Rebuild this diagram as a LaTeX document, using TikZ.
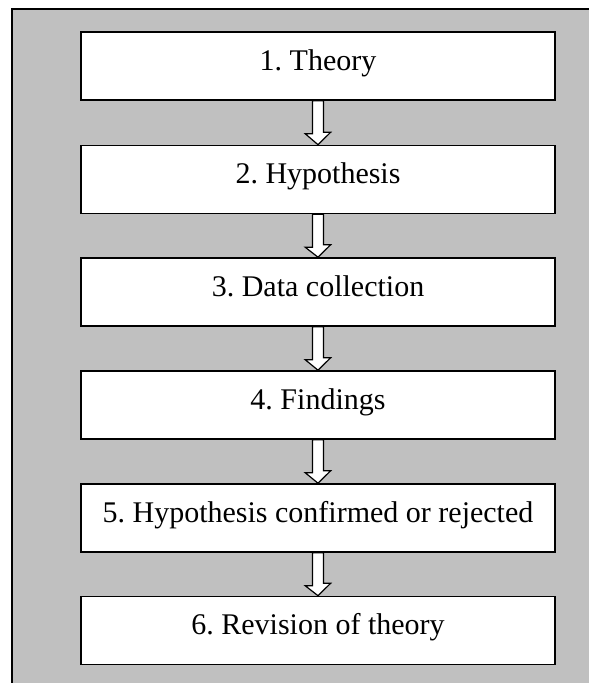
\documentclass[tikz,border=0pt]{standalone}
\usepackage{fontspec}
\setmainfont{Liberation Serif}
\frenchspacing
\usetikzlibrary{calc}
\definecolor{framegray}{HTML}{C0C0C0}
\tikzset{
  stepbox/.style={draw=black, line width=1.6pt, fill=white, minimum width=474pt, minimum height=68pt,
    inner sep=0pt, text height=20pt, text depth=12pt, font=\fontsize{30}{36}\selectfont\frenchspacing},
  hollowarrow/.style={draw=black, line width=1.2pt, fill=white, line join=miter}
}
\newcommand{\flowarrow}[2]{%
  \draw[hollowarrow] ($(#1.south)+(-5.5,0)$) -- ++(0,33) -- ++(-7.2,0) -- (#2.north)
    -- ++(12.7,-12.5) -- ++(-7.2,0) -- ($(#1.south)+(5.5,0)$) -- cycle;}
\begin{document}
\begin{tikzpicture}[x=1pt,y=-1pt]
\useasboundingbox (0,0) rectangle (589,683);
\fill[framegray] (12,9) rectangle (595,690);
\draw[line width=2pt] (595,9) -- (12,9) -- (12,690);
\node[stepbox] (b1) at (318,66) {1. Theory};
\node[stepbox] (b2) at (318,179.5) {2. Hypothesis};
\node[stepbox] (b3) at (318,292) {3. Data collection};
\node[stepbox] (b4) at (318,405) {4. Findings};
\node[stepbox] (b5) at (318,518) {5. Hypothesis confirmed or rejected};
\node[stepbox] (b6) at (318,630.5) {6. Revision of theory};
\flowarrow{b1}{b2}
\flowarrow{b2}{b3}
\flowarrow{b3}{b4}
\flowarrow{b4}{b5}
\flowarrow{b5}{b6}
\end{tikzpicture}
\end{document}
